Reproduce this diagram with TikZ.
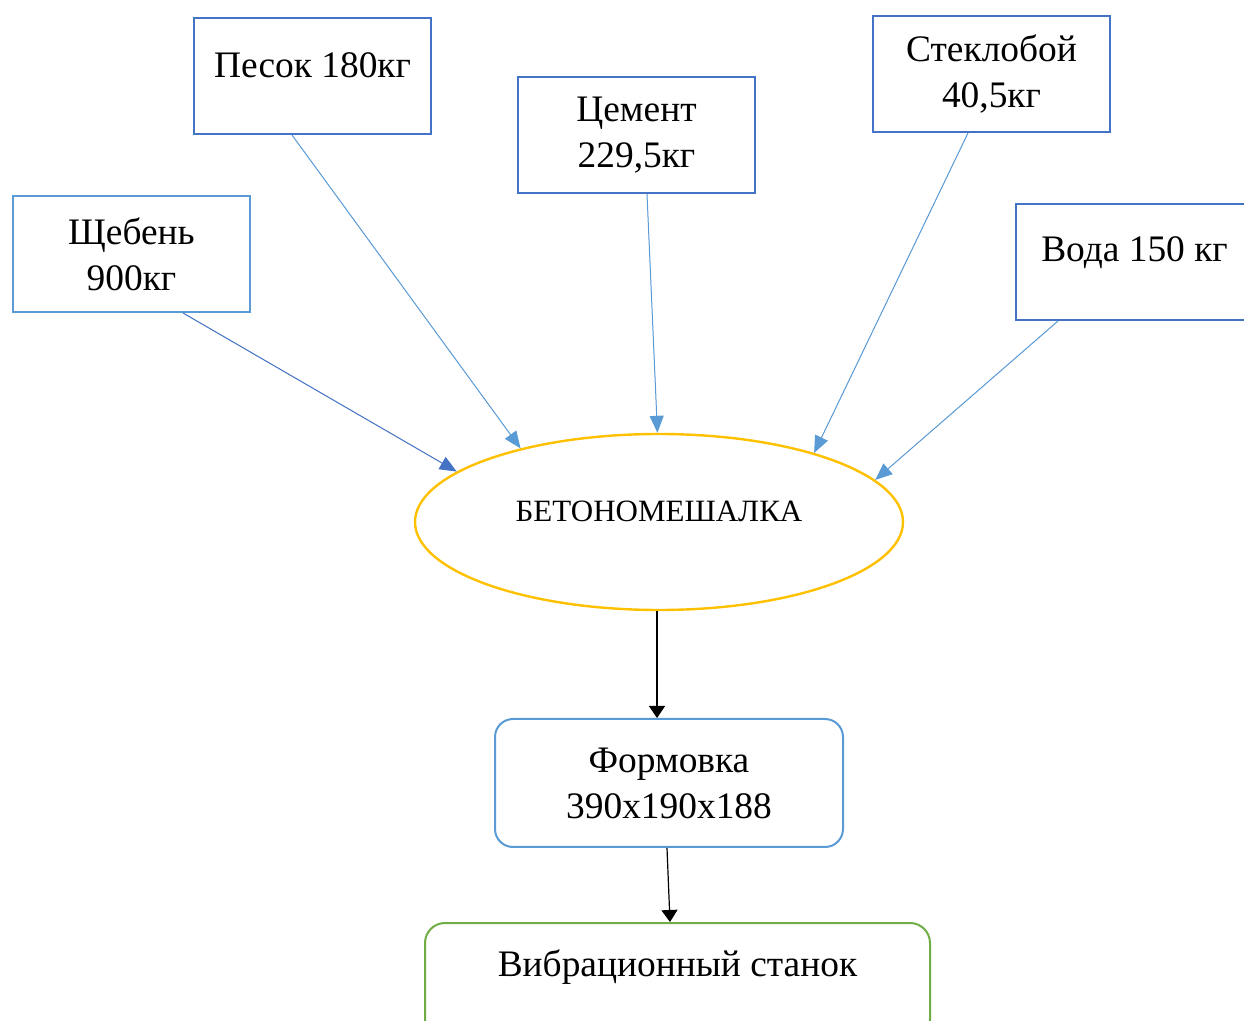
\documentclass[tikz,border=0pt]{standalone}
\usepackage{fontspec}
\setmainfont{Liberation Serif}
\usetikzlibrary{arrows.meta,shapes.geometric}

\definecolor{dkblue}{HTML}{4472C4}
\definecolor{ltblue}{HTML}{5B9BD5}
\definecolor{gold}{HTML}{FFC000}
\definecolor{leaf}{HTML}{70AD47}

\begin{document}
\begin{tikzpicture}[x=0.5pt, y=-0.5pt,
		box/.style={draw=#1, line width=1pt, minimum width=118.5pt, minimum height=58pt, inner sep=0pt, align=center, font=\fontsize{18.7}{23}\selectfont},
		box/.default=dkblue,
		feed/.style={-{Triangle[length=8.5pt,width=7pt]}, draw=#1, fill=#1, line width=0.5pt},
		feed/.default=ltblue,
		flow/.style={-{Triangle[length=6pt,width=8pt]}, line width=0.6pt}]
	\useasboundingbox (0,0) rectangle (1244,1021);
	\clip (0,0) rectangle (1244,1021);
	
	\node[box=ltblue] (sheb) at (131.5,254) {Щебень\\900кг};
	\node[box, anchor=north, text height=30pt, text depth=28pt] (pesok) at (312.5,17) {Песок 180кг};
	\node[box] (cement) at (636.5,135) {Цемент\\229,5кг};
	\node[box] (steklo) at (991.5,74) {Стеклобой\\40,5кг};
	\node[box, anchor=north, text height=29pt, text depth=29pt] (voda) at (1134.5,203) {Вода 150 кг};
	
	\node[ellipse, draw=gold, line width=1.2pt, minimum width=244pt, minimum height=88pt, inner sep=0pt, text height=10pt, text depth=10pt, font=\fontsize{15.5}{18}\selectfont] (mixer) at (659,522) {БЕТОНОМЕШАЛКА};
	
	\node[box=ltblue, rounded corners=9pt, minimum width=174pt, minimum height=64pt] (form) at (669,783) {Формовка\\390х190х188};
	\node[box=leaf, rounded corners=10pt, anchor=north, minimum width=252.5pt, text height=26pt, text depth=30.5pt] (vibro) at (677.5,922) {Вибрационный станок};
	
	\draw[feed=dkblue] ([xshift=25.75pt]sheb.south) -- (mixer.166.8);
	\draw[feed] ([xshift=-10.25pt]pesok.south) -- (mixer.152.2);
	\draw[feed] ([xshift=5.25pt]cement.south) -- (mixer.91.3);
	\draw[feed] ([xshift=-11.75pt]steklo.south) -- (mixer.24.3);
	\draw[feed] ([xshift=-38.25pt]voda.south) -- (mixer.11.5);
	
	\draw[flow] ([xshift=-1pt]mixer.south) -- ([xshift=-1pt]mixer.south |- form.north);
	\draw[flow] ([xshift=-1pt]form.south) -- ([xshift=-3.75pt]vibro.north);
\end{tikzpicture}
\end{document}
